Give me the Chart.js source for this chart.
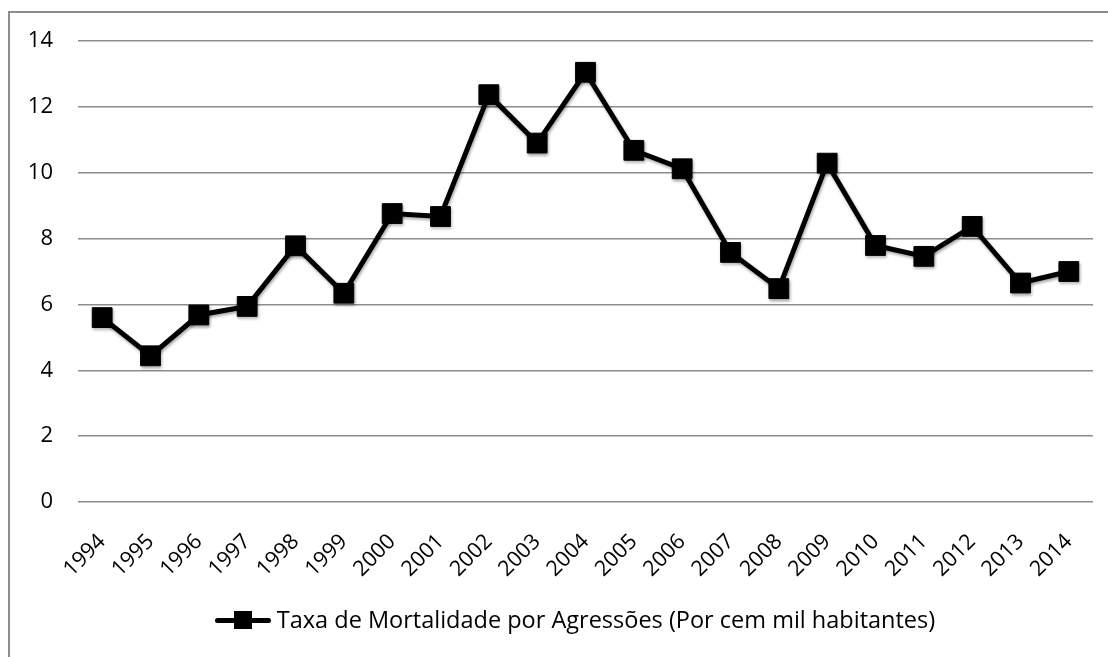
<!DOCTYPE html>
<html>
<head>
<meta charset="utf-8">
<script src="https://cdn.jsdelivr.net/npm/chart.js@4/dist/chart.umd.min.js"></script>
<style>
    html, body { margin: 0; padding: 0; background: #fff; overflow: hidden; }
    #wrap { position: relative; width: 1108px; height: 657px; overflow: hidden; }
    #frame { position: absolute; left: 8px; top: 11px; width: 1200px; height: 800px; border: 2px solid #8c8c8c; box-sizing: border-box; }
    #myChart { position: absolute; left: 0; top: 0; }
    #legend { position: absolute; left: 42px; top: 603px; width: 1066px; text-align: center; font-family: "Open Sans", sans-serif; font-size: 23.5px; color: #000; white-space: nowrap; }
    #legend .key { display: inline-block; position: relative; width: 56px; height: 20px; vertical-align: middle; margin-right: 6px; top: -2px; }
    #legend .key .ln { position: absolute; left: 0; right: 0; top: 8px; height: 5px; background: #000; border-radius: 3px; }
    #legend .key .sq { position: absolute; left: 19px; top: 1px; width: 18px; height: 18px; background: #000; }
</style>
</head>
<body>
<div id="wrap">
    <div id="frame"></div>
    <canvas id="myChart" width="1108" height="657"></canvas>
    <div id="legend"></div>
</div>
<script>
    const years = ['1994', '1995', '1996', '1997', '1998', '1999', '2000', '2001', '2002', '2003', '2004',
        '2005', '2006', '2007', '2008', '2009', '2010', '2011', '2012', '2013', '2014'];
    const taxaMortalidade = [5.60, 4.44, 5.68, 5.94, 7.78, 6.34, 8.76, 8.67, 12.37, 10.90, 13.05,
        10.68, 10.12, 7.58, 6.48, 10.29, 7.79, 7.46, 8.37, 6.65, 7.00];
    const seriesLabel = 'Taxa de Mortalidade por Agressões (Por cem mil habitantes)';
    const yTicks = [0, 2, 4, 6, 8, 10, 12, 14];

    // soft shadow under the line and markers, like the original
    const shadowPlugin = {
        id: 'shadow',
        beforeDatasetsDraw(chart) {
            const ctx = chart.ctx;
            ctx.save();
            ctx.shadowColor = 'rgba(0,0,0,0.35)';
            ctx.shadowBlur = 3;
            ctx.shadowOffsetX = 1;
            ctx.shadowOffsetY = 2;
        },
        afterDatasetsDraw(chart) {
            chart.ctx.restore();
        }
    };

    const ctx = document.getElementById('myChart').getContext('2d');
    const myChart = new Chart(ctx, {
        type: 'line',
        data: {
            labels: years,
            datasets: [{
                label: seriesLabel,
                data: taxaMortalidade,
                borderColor: '#000',
                backgroundColor: '#000',
                borderWidth: 5,
                tension: 0,
                pointStyle: 'rect',
                pointRadius: 14,
                pointBorderWidth: 1,
                pointBackgroundColor: '#000',
                pointBorderColor: '#000'
            }]
        },
        options: {
            responsive: false,
            animation: false,
            layout: { padding: { top: 41, right: 15, left: 0, bottom: 0 } },
            plugins: {
                legend: { display: false },
                tooltip: { enabled: false }
            },
            scales: {
                x: {
                    offset: true,
                    grid: { display: false },
                    border: { display: false },
                    ticks: {
                        color: '#000',
                        font: { family: 'Open Sans', size: 21.5 },
                        minRotation: 45,
                        maxRotation: 45,
                        padding: 19,
                        autoSkip: false
                    },
                    afterFit(scale) { scale.height = 155; }
                },
                y: {
                    min: 0,
                    max: 14,
                    afterBuildTicks(scale) { scale.ticks = yTicks.map(v => ({ value: v })); },
                    grid: { color: '#8c8c8c', lineWidth: 1.5, drawTicks: false },
                    border: { display: false },
                    ticks: {
                        color: '#000',
                        font: { family: 'Open Sans', size: 22 },
                        padding: 25
                    },
                    afterFit(scale) { scale.width = 78; }
                }
            }
        },
        plugins: [shadowPlugin]
    });

    // legend drawn as html: line with square marker, then the label
    document.getElementById('legend').innerHTML =
        '<span class="key"><span class="ln"></span><span class="sq"></span></span>' + seriesLabel;
</script>
</body>
</html>
